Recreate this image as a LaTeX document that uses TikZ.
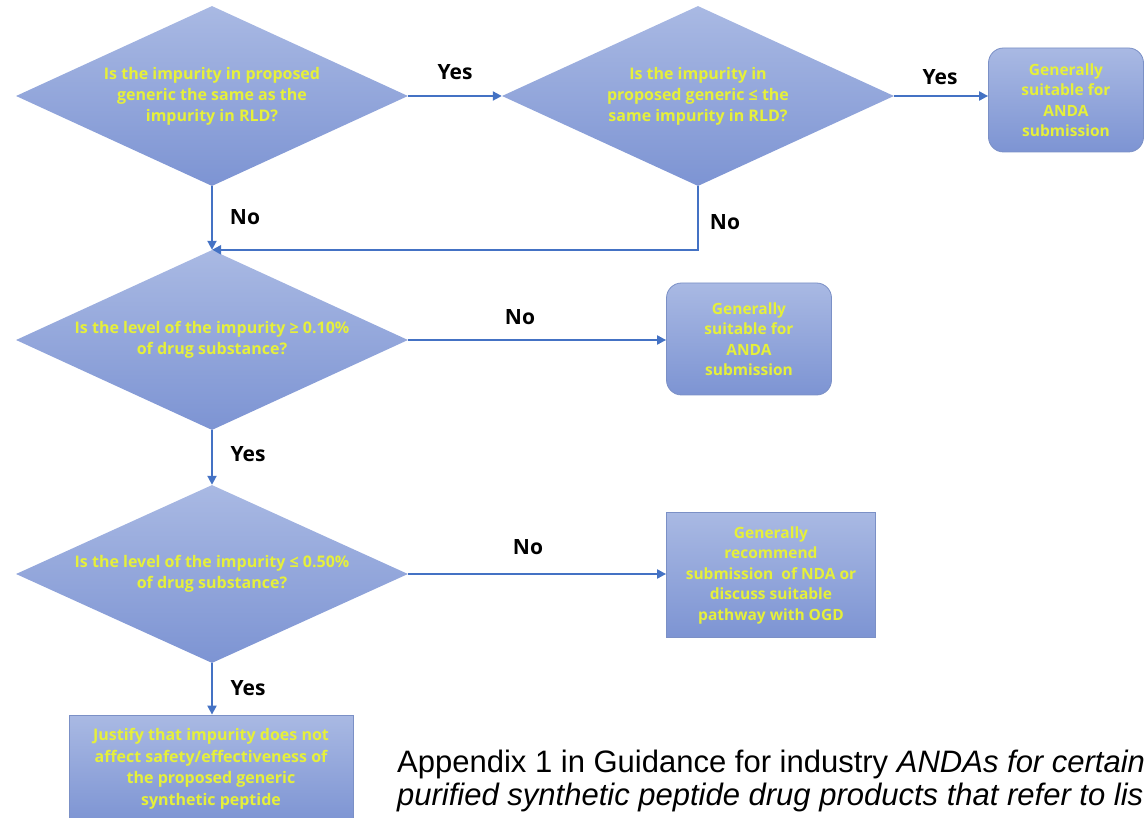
\documentclass[tikz,border=0pt]{standalone}
\usepackage{fontspec}
\setmainfont{Liberation Sans}
\newfontfamily\boxfont{Open Sans}
\newfontfamily\labfont{Open Sans}
\usetikzlibrary{shapes.geometric, arrows.meta}
\definecolor{fdtop}{HTML}{A9B9E3}
\definecolor{fdbot}{HTML}{7D94D3}
\definecolor{fdline}{HTML}{4472C4}
\definecolor{fdtext}{HTML}{E6F03A}
\definecolor{fdedge}{HTML}{7B90C6}

\tikzset{
  question/.style={diamond, shape aspect=2.18, top color=fdtop, bottom color=fdbot,
    draw=none, inner sep=0pt, minimum width=392pt, minimum height=180pt,
    text=fdtext, align=center, font=\boxfont\bfseries\fontsize{16}{21}\selectfont},
  outcome/.style={rectangle, top color=fdtop, bottom color=fdbot, draw=fdedge,
    line width=0.8pt, inner sep=0pt, text=fdtext, align=center,
    font=\boxfont\bfseries\fontsize{15.5}{20.5}\selectfont},
  answer/.style={font=\labfont\bfseries\fontsize{21}{24}\selectfont},
  flow/.style={->, draw=fdline, line width=2pt}
}

\begin{document}
\begin{tikzpicture}[x=1pt, y=-1pt, >={Triangle[length=9pt, width=9pt]}]
  \useasboundingbox (0,0) rectangle (1144,818);
  % decisions
  \node[question] (same) at (212,96) {Is the impurity in proposed\\generic the same as the\\impurity in RLD?};
  \node[question] (less) at (698,96) {Is the impurity in\\proposed generic ≤ the\\same impurity in RLD?};
  \node[question] (low) at (212,340) {Is the level of the impurity ≥ 0.10\%\\of drug substance?};
  \node[question, minimum height=178pt] (high) at (212,574) {Is the level of the impurity ≤ 0.50\%\\of drug substance?};
  % outcomes
  \node[outcome, rounded corners=15pt, minimum width=155pt, minimum height=104pt]
    (anda1) at (1066,100) {Generally\\suitable for\\ANDA\\submission};
  \node[outcome, rounded corners=15pt, minimum width=165pt, minimum height=112pt]
    (anda2) at (749,339) {Generally\\suitable for\\ANDA\\submission};
  \node[outcome, minimum width=209pt, minimum height=125pt]
    (nda) at (771,575) {Generally\\recommend\\submission\ \ of NDA or\\discuss suitable\\pathway with OGD};
  \node[outcome, minimum width=284pt, minimum height=108pt, font=\boxfont\bfseries\fontsize{16}{21.5}\selectfont]
    (justify) at (211,769) {Justify that impurity does not\\affect safety/effectiveness of\\the proposed generic\\synthetic peptide};
  % connectors
  \draw[flow] (same.east) -- (less.west);
  \draw[flow] (less.east) -- (anda1.west |- less.east);
  \draw[flow] (same.south) -- (low.north);
  \draw[flow] (less.south) |- (low.north);
  \draw[flow] (low.east) -- (anda2.west |- low.east);
  \draw[flow] (low.south) -- (high.north);
  \draw[flow] (high.east) -- (nda.west |- high.east);
  \draw[flow] (high.south) -- (justify.north -| high.south);
  % answers
  \foreach \txt/\px/\py/\nm in {Yes/455/72/a1, Yes/940/77/a2, No/245/217/a3, No/725/222/a4,
      No/520/317/a5, Yes/248/454/a6, No/528/547/a7, Yes/248/688/a8}{
    \node[answer] (\nm) at (\px,\py) {\txt};
  }
  % caption
  \node[anchor=base west, inner sep=0pt, align=left, font=\fontsize{31}{33}\selectfont]
    (caption) at (397,805) {Appendix 1 in Guidance for industry \textit{ANDAs for certain}\\
    \textit{purified synthetic peptide drug products that refer to listed}};
\end{tikzpicture}
\end{document}
